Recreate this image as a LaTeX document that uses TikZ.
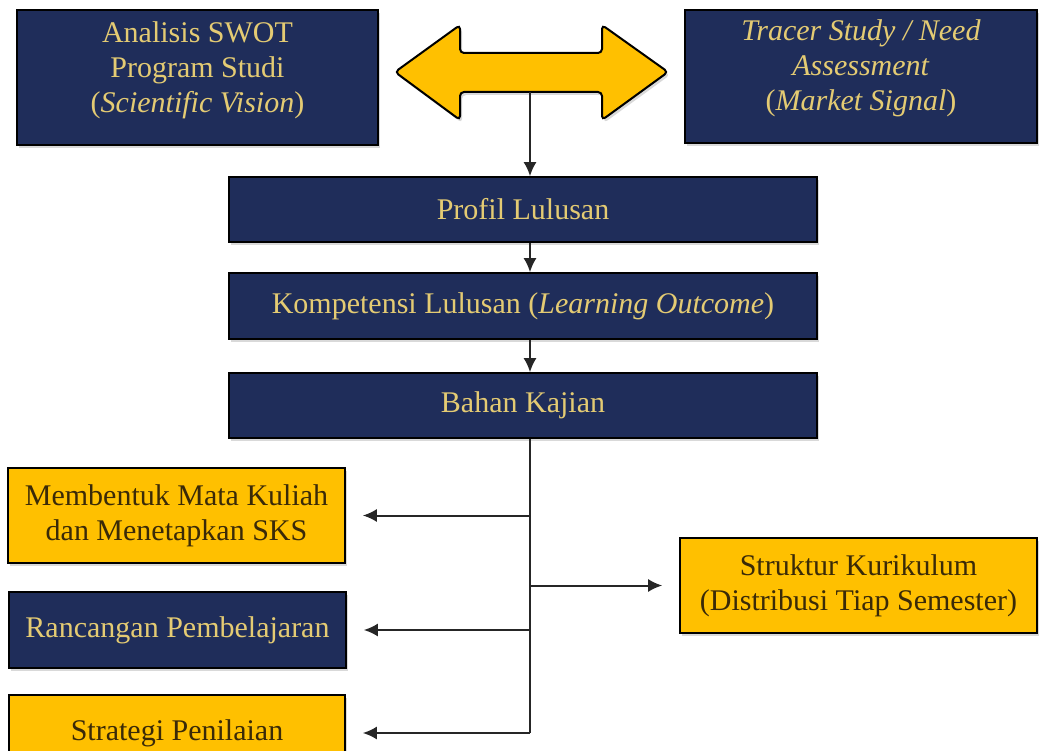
\documentclass[tikz,border=0pt]{standalone}
\usepackage{fontspec}
\setmainfont{Liberation Serif}
\usetikzlibrary{arrows.meta,shadows}
\definecolor{navy}{RGB}{31,45,90}
\definecolor{gold}{RGB}{255,192,0}
\definecolor{goldtext}{RGB}{228,203,115}
\definecolor{browntext}{RGB}{58,42,8}

\begin{document}
\begin{tikzpicture}[x=1pt,y=-1pt]
    \tikzstyle{every node}+=[inner sep=0pt, align=center, font=\fontsize{30}{35}\selectfont]
    \tikzstyle{navybox}=[draw=black, line width=1.6pt, fill=navy, text=goldtext, drop shadow={opacity=0.3, shadow xshift=2pt, shadow yshift=-3pt}]
    \tikzstyle{goldbox}=[draw=black, line width=1.6pt, fill=gold, text=browntext, drop shadow={opacity=0.3, shadow xshift=2pt, shadow yshift=-3pt}]
    \tikzstyle{link}=[black!85, line width=2pt, -{Latex[length=14pt,width=13pt]}]
    \useasboundingbox (0,0) rectangle (1039,751);
    \coordinate (sp) at (530,0);
    \node [navybox, minimum width=361pt, minimum height=135pt] (swot) at (197.5,77.5) {\raisebox{1pt}[0pt][0pt]{\begin{tabular}{@{}c@{}}Analisis SWOT\\Program Studi\\(\textit{Scientific Vision})\end{tabular}}};
    \node [navybox, minimum width=352pt, minimum height=133pt] (tracer) at (861,76.5) {\raisebox{2pt}[0pt][0pt]{\begin{tabular}{@{}c@{}}\textit{Tracer Study / Need}\\\textit{Assessment}\\(\textit{Market Signal})\end{tabular}}};
    \filldraw [fill=gold, draw=black, line width=2pt, rounded corners=4pt, drop shadow={opacity=0.3, shadow xshift=2pt, shadow yshift=-3pt}] (395,72) -- (460,25) -- (460,53) -- (602,53) -- (602,25) -- (668,72) -- (602,120) -- (602,92) -- (460,92) -- (460,120) -- cycle;
    \coordinate (dbl) at (530,92);
    \node [navybox, minimum width=588pt, minimum height=65pt] (profil) at (523,209.5) {Profil Lulusan};
    \node [navybox, minimum width=588pt, minimum height=66pt] (kompetensi) at (523,306) {Kompetensi Lulusan (\textit{Learning Outcome})};
    \node [navybox, minimum width=588pt, minimum height=65pt] (bahan) at (523,405.5) {Bahan Kajian};
    \node [goldbox, minimum width=337pt, minimum height=95pt] (matakuliah) at (176.5,515.5) {Membentuk Mata Kuliah\\dan Menetapkan SKS};
    \node [navybox, minimum width=337pt, minimum height=76pt] (rancangan) at (177.5,630) {Rancangan Pembelajaran};
    \node [goldbox, minimum width=336pt, minimum height=76pt] (strategi) at (177,733) {Strategi Penilaian};
    \node [goldbox, minimum width=357pt, minimum height=95pt] (struktur) at (858.5,585.5) {Struktur Kurikulum\\(Distribusi Tiap Semester)};
    \draw [link] (dbl) -- (profil.north -| sp);
    \draw [link] (profil.south -| sp) -- (kompetensi.north -| sp);
    \draw [link] (kompetensi.south -| sp) -- (bahan.north -| sp);
    \coordinate (spend) at (530,733);
    \draw [black!85, line width=2pt] (bahan.south -| sp) -- (spend);
    \draw [link, shorten >=17pt] (matakuliah.east -| sp) -- (matakuliah.east);
    \draw [link, shorten >=17pt] (rancangan.east -| sp) -- (rancangan.east);
    \draw [link, shorten >=17pt] (spend) -- (strategi.east);
    \draw [link, shorten >=17pt] (struktur.west -| sp) -- (struktur.west);
\end{tikzpicture}
\end{document}
